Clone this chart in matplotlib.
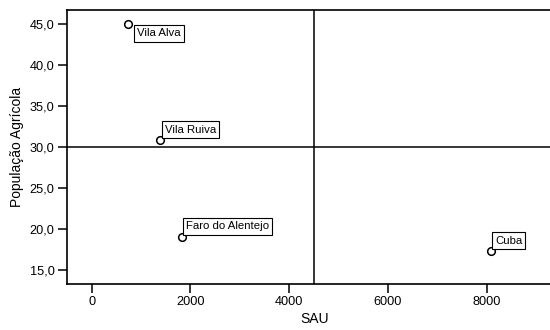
import matplotlib
matplotlib.use("Agg")
import matplotlib.pyplot as plt

plt.rcParams['font.family'] = ['Liberation Sans', 'DejaVu Sans']

# Municipalities: utilised agricultural area (SAU) vs agricultural population (%)
concelhos = ["Vila Alva", "Vila Ruiva", "Faro do Alentejo", "Cuba"]
sau = [730, 1384, 1830, 8090]
pop_agricola = [45.0, 30.85, 19.05, 17.3]

# Reference lines splitting the plane into quadrants
sau_ref = 4500
pop_ref = 30.0

xticks = [0, 2000, 4000, 6000, 8000]
yticks = [15.0, 20.0, 25.0, 30.0, 35.0, 40.0, 45.0]

# label offsets (pixels) of each boxed name relative to its point
label_offsets = [(9.5, -9.1), (5.0, 10.8), (3.7, 10.8), (4.0, 10.8)]

W, H = 550, 330
fig = plt.figure(figsize=(W / 100, H / 100), dpi=100)
left, right, bottom, top = 67, 563, 283.7, 10
ax = fig.add_axes([left / W, 1 - bottom / H, (right - left) / W, (bottom - top) / H])

ax.set_xlim(-500, 9550)
ax.set_ylim(13.37, 46.74)

ax.axvline(sau_ref, color='black', lw=1.1, zorder=1)
ax.axhline(pop_ref, color='black', lw=1.1, zorder=1)

ax.plot(sau, pop_agricola, linestyle='none', marker='o', markersize=5.5,
        markerfacecolor='white', markeredgecolor='black', markeredgewidth=1.1,
        zorder=3)

for name, x, y, (dx, dy) in zip(concelhos, sau, pop_agricola, label_offsets):
    ax.annotate(name, (x, y), xytext=(dx, dy), textcoords='offset pixels',
                ha='left', va='center', fontsize=8.2, zorder=4,
                bbox=dict(boxstyle='square,pad=0.28', facecolor='white',
                          edgecolor='black', linewidth=0.8))

ax.set_xticks(xticks)
ax.set_xticklabels([str(t) for t in xticks])
ax.set_yticks(yticks)
ax.set_yticklabels([f"{t:.1f}".replace('.', ',') for t in yticks])

ax.tick_params(axis='both', direction='out', length=6.5, width=1.1,
               labelsize=9.2, pad=2.5, colors='black')
for side in ('left', 'bottom', 'top'):
    ax.spines[side].set_linewidth(1.2)
ax.spines['right'].set_visible(False)

ax.set_xlabel("SAU", fontsize=10, labelpad=3)
ax.set_ylabel("População Agrícola", fontsize=10, labelpad=4)

fig.savefig("out.png", dpi=100)
